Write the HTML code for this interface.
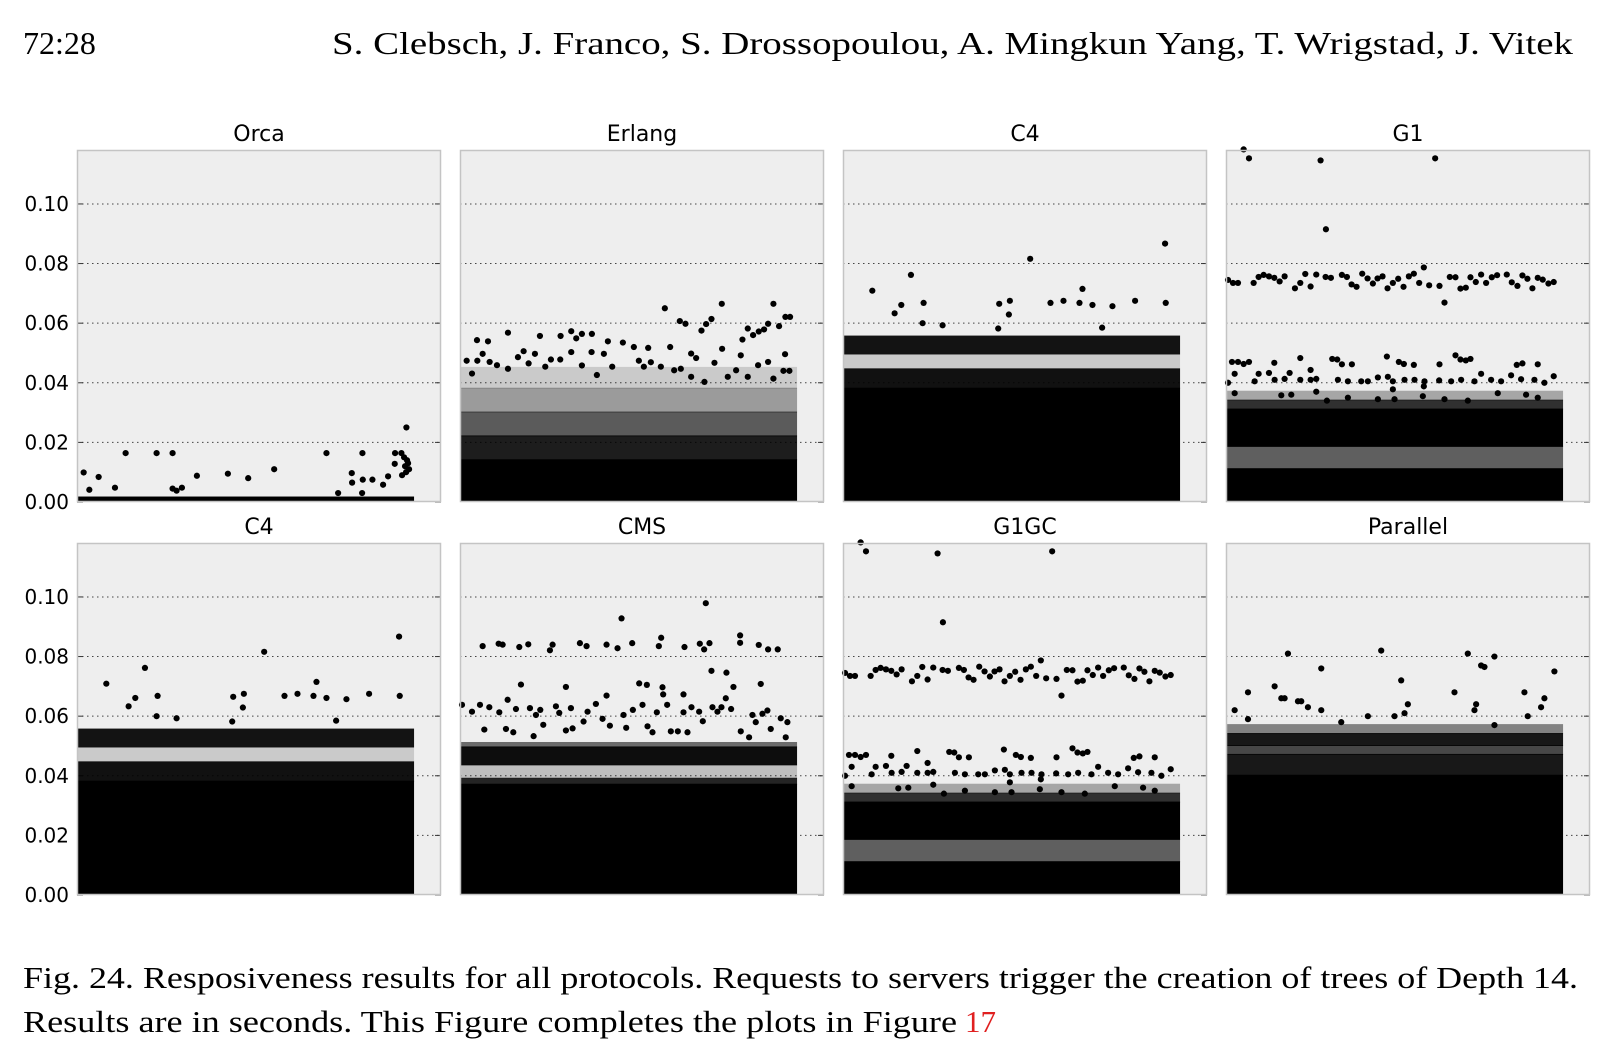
<!DOCTYPE html>
<html><head><meta charset="utf-8"><style>
html,body{margin:0;padding:0;background:#fff;}
svg{display:block;}
</style></head><body>
<svg id="fig" width="1617" height="1057" viewBox="0 0 1617 1057" xmlns="http://www.w3.org/2000/svg">
<text x="23" y="54" font-family="Liberation Serif, serif" font-size="32" fill="#000">72:28</text>
<text x="332" y="54" font-family="Liberation Serif, serif" font-size="32" fill="#000" textLength="1241" lengthAdjust="spacingAndGlyphs">S. Clebsch, J. Franco, S. Drossopoulou, A. Mingkun Yang, T. Wrigstad, J. Vitek</text>
<g id="panels"></g>
<text x="23" y="988" font-family="Liberation Serif, serif" font-size="31" fill="#000" textLength="1555" lengthAdjust="spacingAndGlyphs">Fig. 24.  Resposiveness results for all protocols. Requests to servers trigger the creation of trees of Depth 14.</text>
<text x="23" y="1032" font-family="Liberation Serif, serif" font-size="31" fill="#000"><tspan textLength="934" lengthAdjust="spacingAndGlyphs">Results are in seconds. This Figure completes the plots in Figure</tspan><tspan fill="#e02020" dx="8">17</tspan></text>
</svg>
<script>
// ---- data (x as sample index 0..1000, y in seconds) ----
const titles = ["Orca","Erlang","C4","G1","C4","CMS","G1GC","Parallel"];
const yTicks = [0.00,0.02,0.04,0.06,0.08,0.10];
const yTickLabels = ["0.00","0.02","0.04","0.06","0.08","0.10"];

// dense layers: [lo, hi, density]
const orcaLayers = [[0,0.0015,1]];
const erlangLayers = [[0,0.014,1],[0.014,0.022,0.88],[0.022,0.03,0.62],[0.03,0.038,0.35],[0.038,0.045,0.15]];
const c4Layers = [[0,0.038,1],[0.038,0.0445,0.93],[0.0445,0.0495,0.15],[0.0495,0.0555,0.92]];
const g1Layers = [[0,0.011,1],[0.011,0.0185,0.6],[0.0185,0.031,1],[0.031,0.034,0.8],[0.034,0.037,0.3]];
const cmsLayers = [[0,0.037,1],[0.037,0.039,0.85],[0.039,0.0435,0.2],[0.0435,0.0495,0.95],[0.0495,0.051,0.55]];
const parLayers = [[0,0.040,1],[0.040,0.047,0.9],[0.047,0.050,0.7],[0.050,0.054,0.9],[0.054,0.057,0.45]];

const orcaX = [14,31,59,108,140,233,281,281,293,309,354,447,508,586,743,819,778,851,852,881,913,928,949,968,948,983,976,979,982,970,988,991,985,820,850];
const orcaY = [0.0099,0.0041,0.0084,0.0048,0.0164,0.0164,0.0164,0.0045,0.0038,0.0048,0.0088,0.0095,0.0080,0.0110,0.0164,0.0097,0.0030,0.0164,0.0075,0.0075,0.0058,0.0086,0.0164,0.0164,0.0128,0.025,0.015,0.012,0.010,0.009,0.013,0.011,0.014,0.0065,0.003];

const erlangX = [609,654,671,719,733,749,780,935,971,985,952,919,907,891,858,842,874,138,234,296,328,343,360,390,45,78,14,46,62,168,185,219,438,483,516,559,625,781,688,703,970,965,983,837,426,328,267,295,389,83,105,567,531,451,657,758,889,919,30,138,200,250,360,405,546,597,637,688,728,798,823,858,935];
const erlangY = [0.065,0.0607,0.0598,0.0575,0.0597,0.0614,0.0665,0.0665,0.0621,0.0621,0.059,0.0598,0.0579,0.0572,0.0582,0.0545,0.056,0.0568,0.0557,0.0557,0.0573,0.0549,0.0564,0.0564,0.0543,0.0539,0.0474,0.0474,0.0497,0.0486,0.0506,0.0497,0.0539,0.0535,0.052,0.0517,0.052,0.0514,0.0498,0.0483,0.0496,0.044,0.044,0.0492,0.0497,0.0503,0.0478,0.0478,0.0503,0.047,0.0459,0.0469,0.0474,0.0454,0.0447,0.0467,0.0459,0.047,0.0431,0.0447,0.0465,0.0454,0.0458,0.0426,0.0454,0.0454,0.0442,0.042,0.0403,0.042,0.0442,0.042,0.0414];

const c4X = [82,198,149,169,236,233,293,556,463,495,492,460,617,656,704,713,743,772,803,871,961,963];
const c4Y = [0.0709,0.0762,0.0633,0.0661,0.0668,0.060,0.0593,0.0816,0.0665,0.0675,0.0629,0.0582,0.0668,0.0675,0.0668,0.0715,0.0661,0.0585,0.0657,0.0675,0.0867,0.0668];

const g1X = [47,63,278,622,294, 0,15,30,77,92,107,123,139,155,170,201,217,232,248,265,293,309,342,357,371,386,403,419,435,449,464,479,495,511,527,543,558,574,588,604,635,650,666,683,698,714,728,744,760,775,792,808,837,852,869,884,899,914,930,945,962,978, 12,30,47,63,139,217,248,313,328,342,372,477,513,528,558,635,683,698,714,728,884,930,867, 20,92,123,185,217,248,265,330,360,400,420,450,480,495,530,560,590,634,670,700,740,760,790,820,850,880,920,950,978,0,80,140,170, 20,160,190,265,297,360,450,500,585,650,720,810,895,930,495,588];
const g1Y = [0.1183,0.1153,0.1146,0.1153,0.0915, 0.0745,0.0735,0.0735,0.0735,0.0755,0.0762,0.0757,0.0752,0.0740,0.0757,0.0717,0.0735,0.0765,0.0723,0.0763,0.0755,0.0752,0.0762,0.0755,0.0730,0.0722,0.0766,0.0750,0.0733,0.0750,0.0757,0.0717,0.0735,0.0749,0.0722,0.0757,0.0766,0.0735,0.0787,0.0727,0.0725,0.0669,0.0755,0.0754,0.0716,0.0719,0.0754,0.0738,0.0763,0.0735,0.0754,0.0761,0.0763,0.0737,0.0725,0.0760,0.0749,0.0717,0.0752,0.0746,0.0733,0.0738, 0.0470,0.0470,0.0463,0.0470,0.0467,0.0483,0.0443,0.0480,0.0478,0.0462,0.0462,0.0488,0.0470,0.0463,0.0460,0.0462,0.0492,0.0478,0.0475,0.0480,0.0465,0.0462,0.0460, 0.0430,0.0430,0.0433,0.0433,0.0410,0.0410,0.0413,0.0410,0.0405,0.0405,0.0405,0.0418,0.0420,0.0405,0.0410,0.0410,0.0405,0.0408,0.0405,0.0410,0.0405,0.0430,0.0410,0.0405,0.0425,0.0412,0.0410,0.0400,0.0422,0.0400,0.0405,0.0410,0.0413, 0.0365,0.0358,0.0360,0.0370,0.0340,0.0350,0.0345,0.0345,0.0355,0.0345,0.0340,0.0365,0.0360,0.0350,0.0378,0.0388];

const cmsX = [732,479,62,110,122,172,199,264,272,354,374,434,467,511,591,598,668,714,727,743,835,835,891,919,948,749,794,177,312,532,555,602,897,815,665,604,434, 0,30,54,82,112,137,162,204,222,235,282,292,327,365,377,402,422,444,485,493,513,542,557,572,585,616,627,648,665,677,689,712,723,752,767,779,792,808,837,862,872,882,902,917,927,957,977,972,67,132,154,215,244,312,332];
const cmsY = [0.0979,0.0928,0.0835,0.0843,0.0840,0.0832,0.0841,0.0821,0.0840,0.0845,0.0835,0.0840,0.0828,0.0845,0.0835,0.0863,0.0832,0.0843,0.0824,0.0845,0.0871,0.0846,0.0839,0.0824,0.0824,0.0752,0.0746,0.0706,0.0698,0.0710,0.0705,0.0697,0.0708,0.0698,0.0673,0.0673,0.0669, 0.0638,0.0615,0.0638,0.0630,0.0613,0.0655,0.0624,0.0627,0.0604,0.0621,0.0633,0.0611,0.0627,0.0582,0.0615,0.0641,0.0591,0.0568,0.0604,0.0561,0.0621,0.0638,0.0566,0.0546,0.0613,0.0638,0.0549,0.0549,0.0613,0.0546,0.0630,0.0615,0.0583,0.0630,0.0615,0.0630,0.0660,0.0624,0.0549,0.0529,0.0604,0.0580,0.0608,0.0619,0.0557,0.0593,0.0580,0.0529,0.0555,0.0557,0.0546,0.0533,0.0571,0.0552,0.0559];

const parX = [180,460,720,280,800,760,770,980,520,140,60,160,170,540,210,680,220,20,240,280,420,500,740,940,950,530,745,890,900,60,340,800];
const parY = [0.081,0.082,0.081,0.076,0.080,0.077,0.0765,0.075,0.072,0.070,0.068,0.066,0.066,0.064,0.065,0.068,0.065,0.062,0.063,0.062,0.060,0.060,0.062,0.063,0.066,0.061,0.064,0.068,0.060,0.059,0.058,0.057];

const panelLayers = [orcaLayers,erlangLayers,c4Layers,g1Layers,c4Layers,cmsLayers,g1Layers,parLayers];
const panelX = [orcaX,erlangX,c4X,g1X,c4X,cmsX,g1X,parX];
const panelY = [orcaY,erlangY,c4Y,g1Y,c4Y,cmsY,g1Y,parY];

// ---- layout ----
const NS = "http://www.w3.org/2000/svg";
const root = document.getElementById("panels");
const lefts = [77,460,843,1226];
const tops = [150,543];
const PW = 364, PH = 352, YMAX = 0.1181;
function mk(tag, attrs, parent){ const e=document.createElementNS(NS,tag); for(const k in attrs) e.setAttribute(k,attrs[k]); parent.appendChild(e); return e; }

titles.forEach((title, i) => {
  const L = lefts[i%4], T = tops[Math.floor(i/4)], B = T+PH;
  const yS = v => B - v/YMAX*PH;
  const x0 = L+2, x1 = L+2+0.915*PW;
  const xS = n => x0 + n/1000*(x1-x0);
  const g = mk("g",{},root);
  
  
  const bg = mk("rect",{x:L,y:T,width:PW,height:PH,fill:"#eeeeee"},g);
  
  
  const t = mk("text",{x:L+PW/2,y:T-9,"text-anchor":"middle","font-family":"DejaVu Sans, sans-serif","font-size":"22",fill:"#000"},g);
  t.textContent = title;
  
  
  yTicks.forEach((v, k) => {
    if (v > 0) {
      const gl = mk("line",{x1:L,x2:L+PW,y1:yS(v),y2:yS(v),stroke:"#444","stroke-width":"1","stroke-dasharray":"1.5,3.5"},g);
      
      
    }
    const tk = mk("line",{x1:L+PW-6,x2:L+PW,y1:yS(v),y2:yS(v),stroke:"#333","stroke-width":"1"},g);
    
    
    if (i%4===0) {
      const lt = mk("line",{x1:L,x2:L+6,y1:yS(v),y2:yS(v),stroke:"#333","stroke-width":"1"},g);
      
      
      const tl = mk("text",{x:69,y:yS(v)+7,"text-anchor":"end","font-family":"DejaVu Sans, sans-serif","font-size":"20",fill:"#000"},g);
      tl.textContent = yTickLabels[k];
      
      
    }
  });
  panelLayers[i].forEach(ly => {
    const r = mk("rect",{x:x0-1,y:yS(ly[1])-1,width:(x1-x0)+3,height:yS(ly[0])-yS(ly[1])+1,fill:"#000","fill-opacity":ly[2]},g);
    
    
  });
  panelX[i].forEach((n, k) => {
    const c = mk("circle",{cx:xS(n),cy:yS(panelY[i][k]),r:3.1,fill:"#000"},g);
    
    
  });
  const fr = mk("rect",{x:L+0.5,y:T+0.5,width:PW-1,height:PH-1,fill:"none",stroke:"#c4c4c4","stroke-width":"1.5"},g);
  
  
});
</script>
</body></html>
